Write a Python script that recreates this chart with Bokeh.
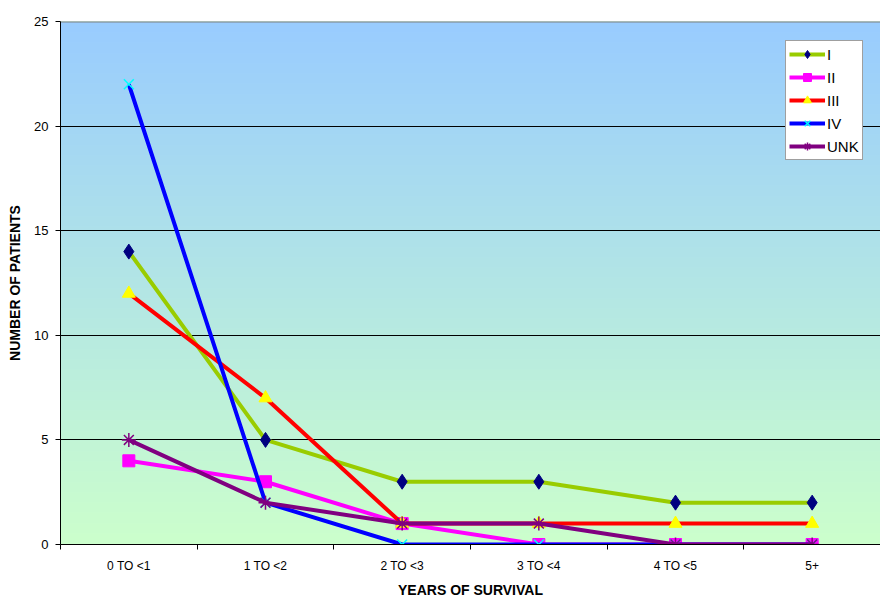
import numpy as np
from bokeh.plotting import figure
from bokeh.models import Range1d, FixedTicker, Legend, LegendItem
from bokeh.embed import file_html
from bokeh.resources import INLINE

categories = ["0 TO <1", "1 TO <2", "2 TO <3", "3 TO <4", "4 TO <5", "5+"]
series_names = ["I", "II", "III", "IV", "UNK"]
vals_I = [14, 5, 3, 3, 2, 2]
vals_II = [4, 3, 1, 0, 0, 0]
vals_III = [12, 7, 1, 1, 1, 1]
vals_IV = [22, 2, 0, 0, 0, 0]
vals_UNK = [5, 2, 1, 1, 0, 0]
y_ticks = [0, 5, 10, 15, 20, 25]

series = [vals_I, vals_II, vals_III, vals_IV, vals_UNK]
line_colors = ["#99CC00", "#FF00FF", "#FF0000", "#0000FF", "#800080"]
markers = ["diamond", "square", "triangle", "x", "asterisk"]
marker_fill = ["#000080", "#FF00FF", "#FFFF00", "#00FFFF", "#800080"]
marker_sizes = [15, 12, 13, 14, 14]

n = len(categories)
xs = [i + 0.5 for i in range(n)]

p = figure(width=880, height=600, output_backend="svg", toolbar_location=None,
           x_range=Range1d(0, n), y_range=Range1d(0, 25),
           min_border_left=60, min_border_right=0, min_border_top=21, min_border_bottom=55)
p.outline_line_color = None
p.background_fill_color = "#CCFFCC"
p.border_fill_color = "white"

# gradient background
N = 256
t = np.linspace(0, 1, N)
bot = np.array([204, 255, 204])
top = np.array([153, 204, 255])
cols = (bot[None, :] * (1 - t[:, None]) + top[None, :] * t[:, None]).astype(np.uint32)
img = np.zeros((N, 1), dtype=np.uint32)
img[:, 0] = (255 << 24) | (cols[:, 2] << 16) | (cols[:, 1] << 8) | cols[:, 0]
p.image_rgba(image=[img], x=0, y=0, dw=n, dh=25, level="image")

# axes
xa = p.xaxis[0]
xa.ticker = FixedTicker(ticks=xs, minor_ticks=list(range(n + 1)))
xa.major_label_overrides = {x: c for x, c in zip(xs, categories)}
xa.major_tick_out = 0
xa.major_tick_in = 0
xa.minor_tick_out = 5
xa.minor_tick_in = 0
xa.minor_tick_line_color = "black"
xa.axis_line_color = "black"
xa.major_label_standoff = 9
xa.major_label_text_font = "'Liberation Sans', Arial"
xa.major_label_text_font_size = "12px"
xa.major_label_text_color = "black"
xa.axis_label = "YEARS OF SURVIVAL"
xa.axis_label_text_font = "'Liberation Sans', Arial"
xa.axis_label_text_font_style = "bold"
xa.axis_label_text_font_size = "14px"
xa.axis_label_standoff = 6
xa.axis_label_text_color = "black"

ya = p.yaxis[0]
ya.ticker = FixedTicker(ticks=y_ticks, minor_ticks=[])
ya.major_tick_out = 5
ya.major_tick_in = 0
ya.axis_line_color = "black"
ya.major_label_standoff = 7
ya.major_label_text_font = "'Liberation Sans', Arial"
ya.major_label_text_font_size = "13px"
ya.major_label_text_color = "black"
ya.axis_label = "NUMBER OF PATIENTS"
ya.axis_label_text_font = "'Liberation Sans', Arial"
ya.axis_label_text_font_style = "bold"
ya.axis_label_text_font_size = "14px"
ya.axis_label_standoff = 8
ya.axis_label_text_color = "black"

p.xgrid.visible = False
p.ygrid.ticker = FixedTicker(ticks=y_ticks[1:-1])
p.ygrid.grid_line_color = "black"
p.ygrid.grid_line_width = 1
p.ygrid.level = "underlay"

# top border line
p.ray(x=[0], y=[25], length=0, angle=0, line_color="#808080", line_width=2)

items = []
for name, vals, lc, mk, mf, ms in zip(series_names, series, line_colors, markers, marker_fill, marker_sizes):
    r1 = p.line(xs, vals, line_color=lc, line_width=4)
    if mk in ("x", "asterisk"):
        r2 = p.scatter(xs, vals, marker=mk, size=ms, line_color=mf, line_width=1.5)
    else:
        r2 = p.scatter(xs, vals, marker=mk, size=ms, fill_color=mf, line_color=mf, line_width=1)
    items.append(LegendItem(label=name, renderers=[r1, r2]))

legend = Legend(items=items, location=(725, 384))
legend.glyph_width = 36
legend.glyph_height = 20
legend.spacing = 3
legend.padding = 3
legend.margin = 0
legend.label_standoff = 2
legend.label_text_font = "'Liberation Sans', Arial"
legend.label_text_font_size = "15px"
legend.label_text_color = "black"
legend.border_line_color = "#404040"
legend.border_line_width = 1
legend.background_fill_color = "white"
legend.background_fill_alpha = 1
p.add_layout(legend, "center")

open("out.html", "w").write(file_html(p, INLINE))
